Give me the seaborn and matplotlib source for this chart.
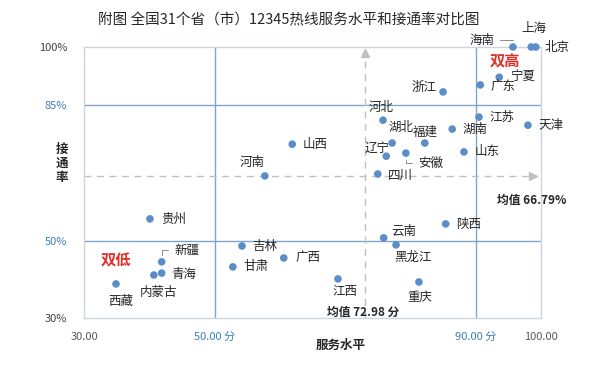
import matplotlib
matplotlib.use("Agg")
import matplotlib.pyplot as plt
import seaborn as sns
import pandas as pd

sns.set_theme(style="white")
plt.rcParams["font.family"] = ["Noto Sans CJK SC", "DejaVu Sans"]

# 31 个省（市）：服务水平(分) / 接通率(%)
provinces = ["海南", "上海", "北京", "宁夏", "广东", "浙江", "江苏", "天津", "湖南", "河北",
             "湖北", "辽宁", "福建", "安徽", "四川", "山东", "山西", "河南", "贵州", "吉林",
             "广西", "甘肃", "新疆", "青海", "内蒙古", "西藏", "陕西", "云南", "黑龙江", "江西", "重庆"]
service = [95.7, 98.5, 99.2, 93.6, 90.7, 85.0, 90.5, 98.0, 86.4, 75.8,
           77.2, 76.3, 82.2, 79.3, 75.0, 88.2, 61.9, 57.7, 40.1, 54.2,
           60.6, 52.8, 41.9, 41.9, 40.7, 34.9, 85.4, 75.9, 77.8, 68.9, 81.3]
connect = [100.0, 100.0, 100.0, 92.2, 90.2, 88.4, 81.9, 79.8, 78.8, 81.1,
           75.2, 71.8, 75.2, 72.6, 67.2, 72.9, 74.9, 66.7, 55.6, 48.6,
           45.5, 43.2, 44.5, 41.6, 41.1, 38.8, 54.3, 50.7, 48.9, 40.1, 39.3]

mean_x = 72.98
mean_y = 66.79
x_ticks = [30, 50, 90, 100]
x_labels = ["30.00", "50.00 分", "90.00 分", "100.00"]
y_ticks = [30, 50, 85, 100]
y_labels = ["30%", "50%", "85%", "100%"]

df = pd.DataFrame({"省份": provinces, "服务水平": service, "接通率": connect})

# 标签偏移（像素）
offsets = {
    "海南": (-31, 7), "上海": (3, 19), "北京": (21, 0), "宁夏": (23, 0), "广东": (23, -2),
    "浙江": (-19, 4), "江苏": (23, 0), "天津": (23, 0), "湖南": (23, 0), "河北": (-2, 13),
    "湖北": (9, 16), "辽宁": (-9, 8), "福建": (0, 11), "安徽": (25, -10), "四川": (23, -1),
    "山东": (23, 0), "山西": (23, 0), "河南": (-13, 13), "贵州": (24, 0), "吉林": (23, -1),
    "广西": (24, 0), "甘肃": (23, 0), "新疆": (25, 12), "青海": (22, -1), "内蒙古": (5, -17),
    "西藏": (5, -18), "陕西": (23, -1), "云南": (20, 6), "黑龙江": (17, -12), "江西": (7, -13),
    "重庆": (1, -16),
}
# 引导线：文字一侧的连接点
leaders = {"海南": (1.0, 0.5), "安徽": (0.0, 0.5), "新疆": (0.0, 0.5)}

BLUE = "#5B8EC8"
LINE = "#7FA5CF"
GRAY = "#C0C0C0"
RED = "#E0302C"

fig = plt.figure(figsize=(5.94, 3.82), dpi=100)
ax = fig.add_axes([84 / 594, 1 - 318 / 382, 457 / 594, 271 / 382])

ax.axvline(50, color=LINE, lw=1, zorder=1)
ax.axvline(90, color=LINE, lw=1, zorder=1)
ax.axhline(85, color=LINE, lw=1, zorder=1)
ax.axhline(50, color=LINE, lw=1, zorder=1)

ax.plot([mean_x, mean_x], [30, 98.5], color=GRAY, lw=1, ls=(0, (5, 4)), zorder=1)
ax.plot([mean_x], [98.5], marker="^", color=GRAY, ms=6, zorder=1)
ax.plot([30, 98.8], [mean_y, mean_y], color=GRAY, lw=1, ls=(0, (5, 4)), zorder=1)
ax.plot([98.8], [mean_y], marker=">", color=GRAY, ms=6, zorder=1)

sns.scatterplot(data=df, x="服务水平", y="接通率", ax=ax, color=BLUE, s=30,
                edgecolor="none", zorder=3, clip_on=False)

for name, x, y in zip(provinces, service, connect):
    dx, dy = offsets[name]
    if name in leaders:
        ax.annotate(name, (x, y), xytext=(dx, dy), textcoords="offset pixels",
                    ha="center", va="center", fontsize=9, color="#262626",
                    arrowprops=dict(arrowstyle="-", color="#8C8C8C", lw=0.7,
                                    relpos=leaders[name],
                                    connectionstyle="angle,angleA=0,angleB=90,rad=0",
                                    shrinkA=2, shrinkB=5))
    else:
        ax.annotate(name, (x, y), xytext=(dx, dy), textcoords="offset pixels",
                    ha="center", va="center", fontsize=9, color="#262626")

ax.text(98.5, 60.5, f"均值 {mean_y:.2f}%", ha="center", va="center",
        fontsize=8.5, fontweight="bold", color="#262626")
ax.text(mean_x - 0.2, 31.5, f"均值 {mean_x:.2f} 分", ha="center", va="center",
        fontsize=8.5, fontweight="bold", color="#262626")
ax.text(94.4, 96.3, "双高", ha="center", va="center", fontsize=11,
        fontweight="bold", color=RED)
ax.text(34.9, 44.8, "双低", ha="center", va="center", fontsize=11,
        fontweight="bold", color=RED)

ax.set_xlim(30, 100)
ax.set_ylim(30, 100)
ax.set_xticks(x_ticks)
ax.set_xticklabels(x_labels)
ax.set_yticks(y_ticks)
ax.set_yticklabels(y_labels)
ax.tick_params(axis="both", length=0, labelsize=8)
ax.tick_params(axis="x", pad=10)
ax.tick_params(axis="y", pad=12)
for lab, c in zip(ax.get_xticklabels(), ["#595959", "#3F7FB0", "#3F7FB0", "#595959"]):
    lab.set_color(c)
for lab, c in zip(ax.get_yticklabels(), ["#404040", "#3F7FB0", "#3F7FB0", "#404040"]):
    lab.set_color(c)
ax.set_xlabel("")
ax.set_ylabel("")
for sp in ax.spines.values():
    sp.set_color("#CDD5DE")
    sp.set_linewidth(1)

fig.text(341 / 594, 1 - 345 / 382, "服务水平", ha="center", va="center",
         fontsize=9, fontweight="bold", color="#262626")
fig.text(62 / 594, 1 - 163 / 382, "接\n通\n率", ha="center", va="center",
         fontsize=9, fontweight="bold", color="#262626", linespacing=1.1)
fig.text(289 / 594, 1 - 20 / 382, "附图 全国31个省（市）12345热线服务水平和接通率对比图",
         ha="center", va="center", fontsize=10.5, color="#262626")

fig.savefig("out.png", dpi=100, facecolor="white")
